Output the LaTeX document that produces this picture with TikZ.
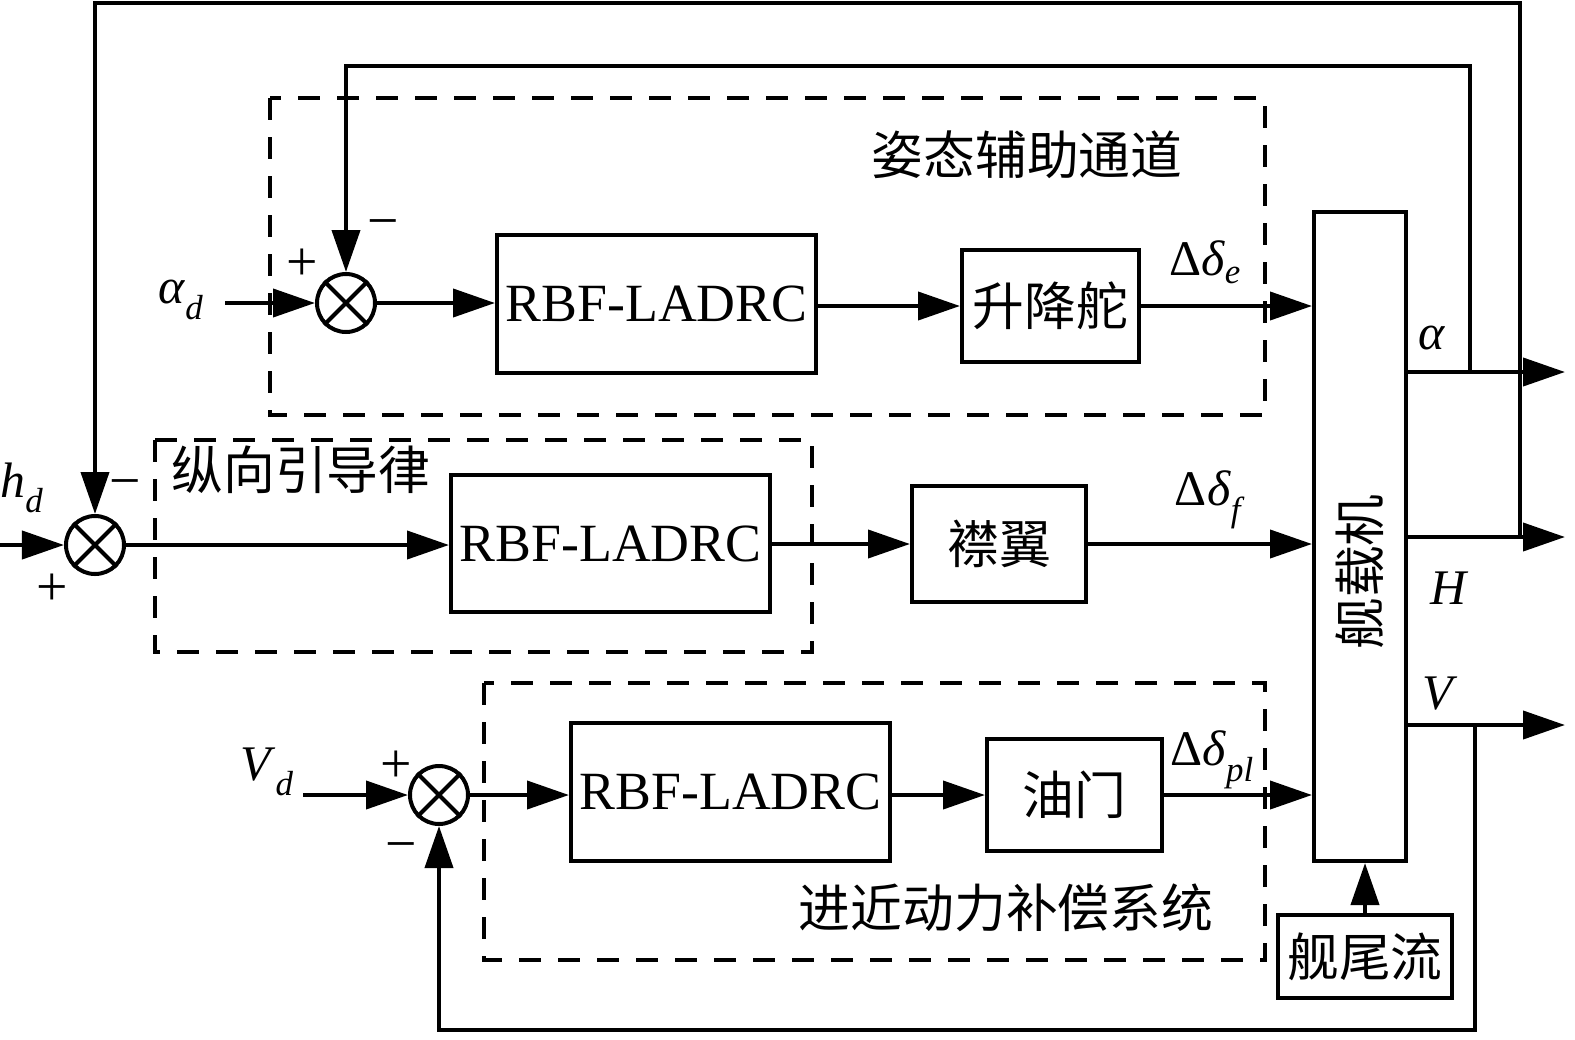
\documentclass[tikz,border=0pt]{standalone}
\usepackage{fontspec}
\setmainfont{Liberation Serif}
\newfontfamily\cjk{Noto Sans CJK SC}
\usetikzlibrary{arrows.meta}
\newcommand\lbl[2]{\textit{#1}\textsubscript{\textit{#2}}}
\begin{document}
\begin{tikzpicture}[x=1bp,y=-1bp,
  line/.style={line width=4bp},
  arr/.style={line width=4bp,-{Triangle[length=42bp,width=28bp]}},
  blk/.style={draw,line width=4bp,inner sep=0pt,font=\fontsize{54}{60}\selectfont},
  cblk/.style={blk,font=\cjk\fontsize{52}{60}\selectfont},
  sumj/.style={draw,circle,line width=4bp,minimum size=58bp,inner sep=0pt},
  dbox/.style={line width=3.5bp,dash pattern=on 22bp off 17bp},
  ctext/.style={font=\cjk\fontsize{52}{60}\selectfont,inner sep=0pt},
  mlab/.style={font=\fontsize{50}{56}\selectfont,inner sep=0pt},
  sign/.style={font=\fontsize{56}{60}\selectfont,inner sep=0pt}]
\useasboundingbox (0,0) rectangle (1575,1039);
% dashed groups
\draw[dbox] (270,98) rectangle (1265,415);
\draw[dbox] (155,440) rectangle (812,652);
\draw[dbox] (484,683) rectangle (1265,960);
\node[ctext] (t1) at (1027,155) {姿态辅助通道};
\node[ctext] (t2) at (301,470) {纵向引导律};
\node[ctext] (t3) at (1006,908) {进近动力补偿系统};
% blocks
\node[blk,minimum width=319bp,minimum height=138bp] (r1) at (656.5,304) {RBF-LADRC};
\node[blk,minimum width=319bp,minimum height=137bp] (r2) at (610.5,543.5) {RBF-LADRC};
\node[blk,minimum width=319bp,minimum height=138bp] (r3) at (730.5,792) {RBF-LADRC};
\node[cblk,minimum width=177bp,minimum height=112bp] (e1) at (1050.5,306) {升降舵};
\node[cblk,minimum width=174bp,minimum height=116bp] (e2) at (999,544) {襟翼};
\node[cblk,minimum width=175bp,minimum height=112bp] (e3) at (1074.5,795) {油门};
\node[blk,minimum width=92bp,minimum height=649bp] (p) at (1360,536.5) {};
\node[ctext,rotate=90] (pl) at (1360,572) {舰载机};
\node[cblk,minimum width=174bp,minimum height=83bp] (w) at (1365,956.5) {舰尾流};
% summing junctions
\node[sumj] (s1) at (346,303) {};
\node[sumj] (s2) at (95,545) {};
\node[sumj] (s3) at (439,795) {};
\foreach \s in {s1,s2,s3}{
  \draw[line] (\s.45) -- (\s.225);
  \draw[line] (\s.135) -- (\s.315);
}
% inputs
\coordinate (ad) at (225,303);
\coordinate (hd) at (0,545);
\coordinate (vd) at (303,795);
\draw[arr] (ad) -- (s1.west);
\draw[arr] (hd) -- (s2.west);
\draw[arr] (vd) -- (s3.west);
\node[mlab] (lad) at (181,300) {\lbl{α}{d}};
\node[mlab] (lhd) at (22,488) {\lbl{h}{d}};
\node[mlab] (lvd) at (267,772) {\lbl{V}{d}};
% forward paths
\draw[arr] (s1.east) -- (r1.west |- s1.east);
\draw[arr] (r1.east |- e1.west) -- (e1.west);
\draw[arr] (e1.east) -- (e1.east -| p.west);
\draw[arr] (s2.east) -- (r2.west |- s2.east);
\draw[arr] (r2.east |- e2.west) -- (e2.west);
\draw[arr] (e2.east) -- (e2.east -| p.west);
\draw[arr] (s3.east) -- (r3.west |- s3.east);
\draw[arr] (r3.east |- e3.west) -- (e3.west);
\draw[arr] (e3.east) -- (e3.east -| p.west);
\draw[arr] (w.north) -- (w.north |- p.south);
\node[mlab] (de) at (1205,262) {Δ\textit{δ}\textsubscript{\textit{e}}};
\node[mlab] (df) at (1210,500) {Δ\textit{δ}\textsubscript{\textit{f}}};
\node[mlab] (dp) at (1212,760) {Δ\textit{δ}\textsubscript{\textit{pl}}};
% outputs
\coordinate (oa) at (1565,372);
\coordinate (oh) at (1565,537);
\coordinate (ov) at (1565,725);
\draw[arr] (p.east |- oa) -- (oa);
\draw[arr] (p.east |- oh) -- (oh);
\draw[arr] (p.east |- ov) -- (ov);
\node[mlab] (la) at (1432,338) {\textit{α}};
\node[mlab] (lh) at (1450,588) {\textit{H}};
\node[mlab] (lv) at (1440,694) {\textit{V}};
% feedback
\coordinate (fa) at (1470,372);
\coordinate (fa1) at (1470,66);
\coordinate (fh) at (1520,537);
\coordinate (fh1) at (1520,3);
\coordinate (fv) at (1475,725);
\coordinate (fv1) at (1475,1030);
\draw[arr] (fa) -- (fa1) -| (s1.north);
\draw[arr] (fh) -- (fh1) -| (s2.north);
\draw[arr] (fv) -- (fv1) -| (s3.south);
% signs
\node[sign] (g1) at (302,265) {+};
\node[sign] (g2) at (383,230) {−};
\node[sign] (g3) at (125,490) {−};
\node[sign] (g4) at (52,590) {+};
\node[sign] (g5) at (396,767) {+};
\node[sign] (g6) at (401,853) {−};
\end{tikzpicture}
\end{document}
